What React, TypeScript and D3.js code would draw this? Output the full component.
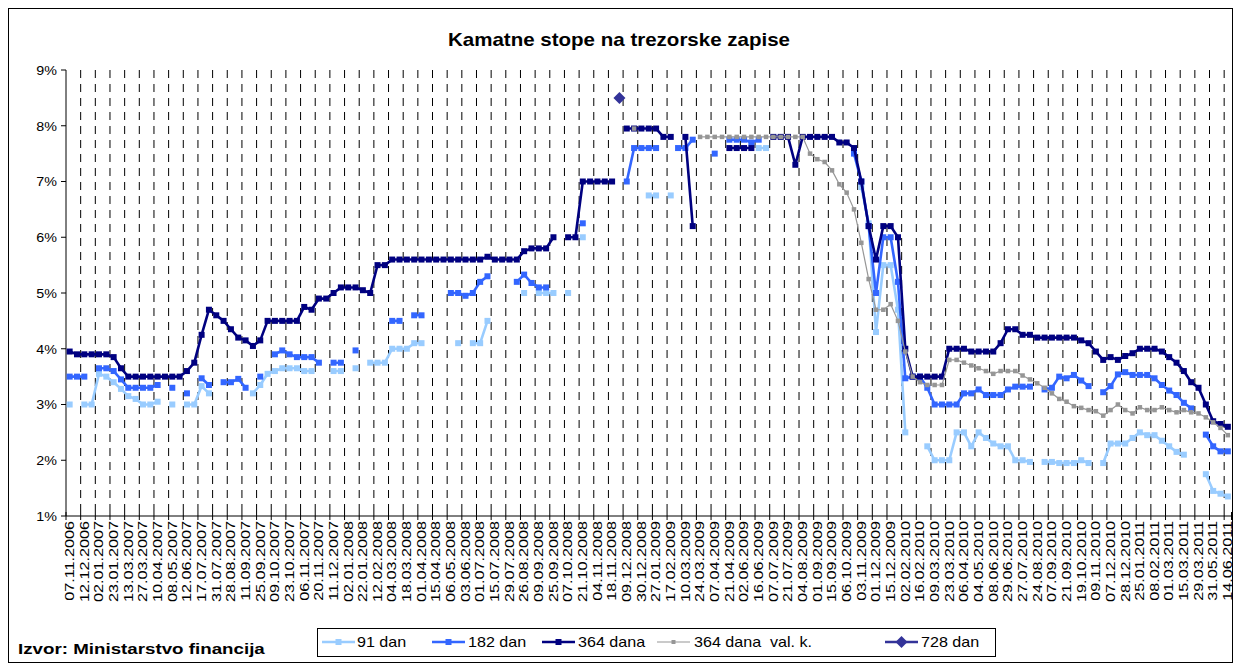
import React from "react";
import * as d3 from "d3";

// auction dates (every second one is shown on the axis)
const dates = [
  "07.11.2006", "21.11.2006", "12.12.2006", "19.12.2006", "02.01.2007", "09.01.2007", "23.01.2007", "13.02.2007", "13.03.2007", "20.03.2007",
  "27.03.2007", "03.04.2007", "10.04.2007", "24.04.2007", "08.05.2007", "22.05.2007", "12.06.2007", "03.07.2007", "17.07.2007", "24.07.2007",
  "31.07.2007", "14.08.2007", "28.08.2007", "04.09.2007", "11.09.2007", "18.09.2007", "25.09.2007", "02.10.2007", "09.10.2007", "16.10.2007",
  "23.10.2007", "30.10.2007", "06.11.2007", "13.11.2007", "20.11.2007", "04.12.2007", "11.12.2007", "18.12.2007", "02.01.2008", "15.01.2008",
  "22.01.2008", "29.01.2008", "12.02.2008", "26.02.2008", "04.03.2008", "11.03.2008", "18.03.2008", "25.03.2008", "01.04.2008", "08.04.2008",
  "15.04.2008", "22.04.2008", "06.05.2008", "20.05.2008", "03.06.2008", "17.06.2008", "01.07.2008", "08.07.2008", "15.07.2008", "22.07.2008",
  "29.07.2008", "12.08.2008", "26.08.2008", "02.09.2008", "09.09.2008", "16.09.2008", "25.09.2008", "30.09.2008", "07.10.2008", "14.10.2008",
  "21.10.2008", "28.10.2008", "04.11.2008", "11.11.2008", "18.11.2008", "25.11.2008", "09.12.2008", "16.12.2008", "30.12.2008", "13.01.2009",
  "27.01.2009", "03.02.2009", "17.02.2009", "24.02.2009", "10.03.2009", "17.03.2009", "24.03.2009", "31.03.2009", "07.04.2009", "14.04.2009",
  "21.04.2009", "12.05.2009", "02.06.2009", "09.06.2009", "16.06.2009", "23.06.2009", "07.07.2009", "14.07.2009", "21.07.2009", "28.07.2009",
  "04.08.2009", "18.08.2009", "01.09.2009", "08.09.2009", "15.09.2009", "22.09.2009", "06.10.2009", "20.10.2009", "03.11.2009", "17.11.2009",
  "01.12.2009", "08.12.2009", "15.12.2009", "12.01.2010", "02.02.2010", "09.02.2010", "16.02.2010", "23.02.2010", "09.03.2010", "16.03.2010",
  "23.03.2010", "30.03.2010", "06.04.2010", "20.04.2010", "04.05.2010", "18.05.2010", "08.06.2010", "15.06.2010", "29.06.2010", "13.07.2010",
  "27.07.2010", "10.08.2010", "24.08.2010", "31.08.2010", "07.09.2010", "14.09.2010", "21.09.2010", "05.10.2010", "19.10.2010", "26.10.2010",
  "09.11.2010", "23.11.2010", "07.12.2010", "14.12.2010", "28.12.2010", "11.01.2011", "25.01.2011", "01.02.2011", "08.02.2011", "15.02.2011",
  "01.03.2011", "08.03.2011", "15.03.2011", "22.03.2011", "29.03.2011", "12.04.2011", "31.05.2011", "07.06.2011", "14.06.2011",
];

// 91 dan
const rate91 = [
  3.0, null, 3.0, 3.0, 3.55, 3.5, 3.4, 3.28, 3.15, 3.1,
  3.0, 3.0, 3.05, null, 3.0, null, 3.0, 3.0, 3.33, 3.2,
  null, null, null, null, null, 3.2, 3.35, 3.55, 3.6, 3.65,
  3.65, 3.65, 3.6, 3.6, null, null, 3.6, 3.6, null, 3.65,
  null, 3.75, 3.75, 3.75, 4.0, 4.0, 4.0, 4.1, 4.1, null,
  null, null, null, 4.1, null, 4.1, 4.1, 4.5, null, null,
  null, null, 5.0, null, 5.0, 5.0, 5.0, null, 5.0, null,
  6.0, null, null, null, null, null, null, null, null, 6.75,
  6.75, null, 6.75, null, null, null, null, null, null, null,
  null, null, null, null, 7.6, 7.6, null, null, null, null,
  null, null, null, null, null, null, null, null, 6.9, 6.25,
  4.3, 5.5, 5.5, 4.7, 2.5, null, null, 2.25, 2.0, 2.0,
  2.0, 2.5, 2.5, 2.25, 2.5, 2.4, 2.3, 2.25, 2.25, 2.0,
  2.0, 1.97, null, 1.97, 1.97, 1.95, 1.95, 1.95, 2.0, 1.95,
  null, 1.95, 2.3, 2.3, 2.3, 2.4, 2.5, 2.45, 2.45, 2.35,
  2.25, 2.15, 2.1, null, null, 1.75, 1.45, 1.4, 1.35,
];

// 182 dan
const rate182 = [
  3.5, 3.5, 3.5, null, 3.65, 3.65, 3.6, 3.45, 3.3, 3.3,
  3.3, 3.3, 3.35, null, 3.3, null, 3.2, null, 3.47, 3.35,
  null, 3.4, 3.4, 3.46, 3.3, null, 3.5, null, 3.9, 3.97,
  3.9, 3.85, 3.85, 3.85, 3.75, null, 3.75, 3.75, null, 3.97,
  null, null, null, null, 4.5, 4.5, null, 4.6, 4.6, null,
  null, null, 5.0, 5.0, 4.95, 5.0, 5.2, 5.3, null, null,
  null, 5.2, 5.33, 5.18, 5.1, 5.1, null, null, null, null,
  6.25, null, null, null, null, null, 7.0, 7.6, 7.6, 7.6,
  7.6, null, null, 7.6, 7.6, 7.75, null, null, 7.5, null,
  7.75, 7.75, 7.75, 7.7, 7.75, null, null, null, null, null,
  null, null, null, null, null, null, null, 7.5, 7.0, 6.2,
  5.0, 6.0, 6.0, 5.2, 3.47, 3.5, 3.5, 3.3, 3.0, 3.0,
  3.0, 3.0, 3.2, 3.2, 3.27, 3.17, 3.17, 3.17, 3.27, 3.32,
  3.32, 3.32, null, 3.27, 3.3, 3.5, 3.47, 3.53, 3.43, 3.33,
  null, 3.22, 3.33, 3.54, 3.58, 3.53, 3.53, 3.53, 3.47, 3.35,
  3.25, 3.17, 3.03, 2.93, null, 2.46, 2.25, 2.16, 2.16,
];

// 364 dana
const rate364 = [
  3.95, 3.9, 3.9, 3.9, 3.9, 3.9, 3.85, 3.65, 3.5, 3.5,
  3.5, 3.5, 3.5, 3.5, 3.5, 3.5, 3.6, 3.75, 4.25, 4.7,
  4.6, 4.5, 4.35, 4.2, 4.15, 4.05, 4.15, 4.5, 4.5, 4.5,
  4.5, 4.5, 4.75, 4.7, 4.9, 4.9, 5.0, 5.1, 5.1, 5.1,
  5.05, 5.0, 5.5, 5.5, 5.6, 5.6, 5.6, 5.6, 5.6, 5.6,
  5.6, 5.6, 5.6, 5.6, 5.6, 5.6, 5.6, 5.65, 5.6, 5.6,
  5.6, 5.6, 5.75, 5.8, 5.8, 5.8, 6.0, null, 6.0, 6.0,
  7.0, 7.0, 7.0, 7.0, 7.0, null, 7.95, 7.95, 7.95, 7.95,
  7.95, 7.8, 7.8, null, 7.8, 6.2, null, null, null, null,
  7.6, 7.6, 7.6, 7.6, null, null, 7.8, 7.8, 7.8, 7.3,
  7.8, 7.8, 7.8, 7.8, 7.8, 7.7, 7.7, 7.6, 7.0, 6.2,
  5.6, 6.2, 6.2, 6.0, 4.0, 3.5, 3.5, 3.5, 3.5, 3.5,
  4.0, 4.0, 4.0, 3.95, 3.95, 3.95, 3.95, 4.1, 4.35, 4.35,
  4.25, 4.25, 4.2, 4.2, 4.2, 4.2, 4.2, 4.2, 4.15, 4.1,
  3.95, 3.8, 3.85, 3.8, 3.87, 3.92, 4.0, 4.0, 4.0, 3.95,
  3.85, 3.75, 3.6, 3.4, 3.3, 3.0, 2.7, 2.65, 2.6,
];

// 364 dana val. k.
const rate364fx = [
  null, null, null, null, null, null, null, null, null, null,
  null, null, null, null, null, null, null, null, null, null,
  null, null, null, null, null, null, null, null, null, null,
  null, null, null, null, null, null, null, null, null, null,
  null, null, null, null, null, null, null, null, null, null,
  null, null, null, null, null, null, null, null, null, null,
  null, null, null, null, null, null, null, null, null, null,
  null, null, null, null, null, null, null, 7.95, null, null,
  null, null, null, null, null, null, 7.8, 7.8, 7.8, 7.8,
  7.8, 7.8, 7.8, 7.8, 7.8, 7.8, 7.8, 7.8, 7.8, 7.8,
  7.8, 7.5, 7.4, 7.35, 7.2, 6.95, 6.8, 6.5, 5.9, 5.25,
  4.7, 4.7, 4.8, 4.5, 3.95, 3.5, 3.4, 3.35, 3.35, 3.35,
  3.8, 3.8, 3.75, 3.7, 3.65, 3.6, 3.55, 3.6, 3.6, 3.6,
  3.52, 3.45, 3.38, 3.3, 3.2, 3.1, 3.05, 2.97, 2.94, 2.9,
  2.88, 2.8, 2.9, 3.0, 2.9, 2.84, 2.95, 2.9, 2.9, 2.95,
  2.9, 2.86, 2.9, 2.86, 2.84, 2.77, 2.68, 2.58, 2.45,
];

// 728 dan: a single auction
const auctions728 = ["25.11.2008"];
const rate728 = [8.5];

const yTicks = [1, 2, 3, 4, 5, 6, 7, 8, 9];

const FONT = "Arial, 'Liberation Sans', Helvetica, sans-serif";

const series = [
  { name: "91 dan", values: rate91, color: "#99CCFF", width: 2.6, size: 6 },
  { name: "182 dan", values: rate182, color: "#3366FF", width: 2.6, size: 6 },
  { name: "364 dana", values: rate364, color: "#000080", width: 2.6, size: 6 },
  { name: "364 dana  val. k.", values: rate364fx, color: "#969696", width: 1.2, size: 4.5 },
];

// stretch a text horizontally from its own anchor point
const hStretch = (xAnchor: number, k: number) => `translate(${-xAnchor * (k - 1)},0) scale(${k},1)`;

export default function App() {
  const x = d3.scaleBand<string>().domain(dates).range([66, 1231.5]);
  const bw = x.bandwidth();
  const cx = (d: string) => (x(d) as number) + bw / 2;
  const y = d3.scaleLinear().domain([1, 9]).range([516, 70]);

  const line = d3
    .line<number | null>()
    .defined((d) => d != null)
    .x((d, i) => cx(dates[i]))
    .y((d) => y(d as number));

  // gridlines / ticks every second category boundary
  const gridX = dates.filter((d, i) => i % 2 === 0).map((d) => x(d) as number);
  gridX.push(1231.5);

  const legendItems = [
    { name: "91 dan", color: "#99CCFF", x1: 322, tx: 357, kind: "sq" },
    { name: "182 dan", color: "#3366FF", x1: 432, tx: 468, kind: "sq" },
    { name: "364 dana", color: "#000080", x1: 542, tx: 578, kind: "sq" },
    { name: "364 dana  val. k.", color: "#969696", x1: 657, tx: 694, kind: "gray" },
    { name: "728 dan", color: "#333399", x1: 885, tx: 921, kind: "dia" },
  ];

  return (
    <svg
      width={1241}
      height={670}
      style={{ position: "absolute", left: 0, top: 0, background: "#fff" }}
      fontFamily={FONT}
    >
      <rect x={8.5} y={8.5} width={1224} height={654} fill="#fff" stroke="#000" strokeWidth={1} />

      <text x={619} y={46} textAnchor="middle" fontSize={18} fontWeight="bold" transform={hStretch(619, 1.14)}>
        Kamatne stope na trezorske zapise
      </text>

      {/* vertical dashed gridlines */}
      {gridX.slice(1, -1).map((gx, i) => (
        <line key={"g" + i} x1={gx} x2={gx} y1={70} y2={516} stroke="#000" strokeWidth={1} strokeDasharray="8,6" />
      ))}

      {/* y axis */}
      <line x1={66} x2={66} y1={70} y2={516} stroke="#000" />
      {yTicks.map((t) => (
        <g key={"y" + t}>
          <line x1={61} x2={66} y1={y(t)} y2={y(t)} stroke="#000" />
          <text x={57} y={y(t) + 5} textAnchor="end" fontSize={13} transform={hStretch(57, 1.1)}>{t}%</text>
        </g>
      ))}

      {/* x axis */}
      <line x1={66} x2={1231.5} y1={516} y2={516} stroke="#000" />
      {gridX.map((gx, i) => (
        <line key={"t" + i} x1={gx} x2={gx} y1={512} y2={520} stroke="#000" />
      ))}
      {dates.map((d, i) =>
        i % 2 === 0 ? (
          <text key={"xl" + i} fontSize={12} textAnchor="end"
            transform={`translate(${cx(d) + 4.3},521) scale(1,1.35) rotate(-90)`}>
            {d}
          </text>
        ) : null
      )}

      {/* series */}
      {series.map((s) => (
        <g key={s.name}>
          <path d={line(s.values) || ""} fill="none" stroke={s.color} strokeWidth={s.width} strokeLinejoin="round" />
          {s.values.map((v, i) =>
            v == null ? null : (
              <rect key={i} x={cx(dates[i]) - s.size / 2} y={y(v) - s.size / 2} width={s.size} height={s.size} fill={s.color} />
            )
          )}
        </g>
      ))}
      {auctions728.map((d, i) => (
        <path key={"d" + i} d={`M${cx(d)},${y(rate728[i]) - 6}l6,6l-6,6l-6,-6z`} fill="#333399" />
      ))}

      {/* source */}
      <text x={18} y={654} fontSize={15} fontWeight="bold" transform={hStretch(18, 1.25)}>
        Izvor: Ministarstvo financija
      </text>

      {/* legend */}
      <rect x={317.5} y={628.5} width={678} height={28} fill="#fff" stroke="#000" />
      {legendItems.map((l) => (
        <g key={l.name}>
          <line x1={l.x1} x2={l.x1 + 33} y1={642} y2={642} stroke={l.color} strokeWidth={l.kind === "gray" ? 1.2 : 2.6} />
          {l.kind === "sq" && <rect x={l.x1 + 13.5} y={639} width={6} height={6} fill={l.color} />}
          {l.kind === "gray" && <rect x={l.x1 + 14.5} y={640} width={4} height={4} fill={l.color} />}
          {l.kind === "dia" && <path d={`M${l.x1 + 16.5},636l6,6l-6,6l-6,-6z`} fill={l.color} />}
          <text x={l.tx} y={647} fontSize={14} style={{ whiteSpace: "pre" }} transform={hStretch(l.tx, 1.15)}>
            {l.name}
          </text>
        </g>
      ))}
    </svg>
  );
}
